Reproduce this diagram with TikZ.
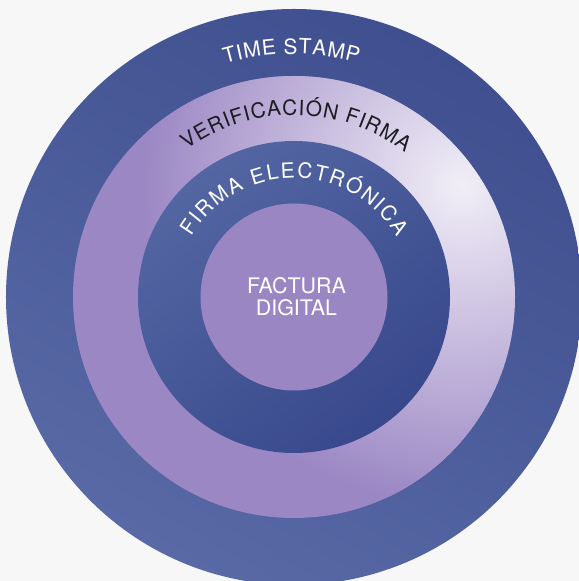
\documentclass[tikz,border=0pt]{standalone}
\usepackage{fontspec}
\setmainfont{TeX Gyre Heros}
\definecolor{bgc}{HTML}{F7F7F7}
\definecolor{outerA}{HTML}{3F4F8F}
\definecolor{outerB}{HTML}{5869A6}
\definecolor{lav}{HTML}{9B87C4}
\definecolor{lavlight}{HTML}{F1EEF7}
\definecolor{innerA}{HTML}{5366A2}
\definecolor{innerB}{HTML}{38488C}
\definecolor{core}{HTML}{9A86C2}
\definecolor{darktext}{HTML}{1C1C22}
% #1 radius, #2 centre angle, #3 tracking, #4 node style, #5 name prefix, #6 font size, #7 list char/width(1/1000 em)
\newcommand\arclabel[7]{%
  \xdef\arcsum{0}%
  \foreach \ch/\w in {#7}{%
    \pgfmathsetmacro\arctmp{\arcsum+\w/1000*#6+#3}%
    \xdef\arcsum{\arctmp}%
  }%
  \pgfmathsetmacro\arcstart{#2 + deg((\arcsum-#3)/(2*#1))}%
  \xdef\arcsum{0}%
  \foreach \ch/\w [count=\i] in {#7}{%
    \pgfmathsetmacro\arcang{\arcstart - deg((\arcsum+0.5*\w/1000*#6)/#1)}%
    \pgfmathsetmacro\arcrot{\arcang-90}%
    \node[#4, anchor=base, rotate=\arcrot] (#5-\i) at (\arcang:#1bp) {\ch};
    \pgfmathsetmacro\arctmp{\arcsum+\w/1000*#6+#3}%
    \xdef\arcsum{\arctmp}%
  }%
}
\begin{document}
\begin{tikzpicture}[x=1bp,y=1bp,
  arcchar/.style={text=#1, font=\fontsize{21}{21}\selectfont, inner sep=0pt},
  centertext/.style={text=white, font=\fontsize{21.5}{22}\selectfont, inner sep=0pt, anchor=base}
]
\clip (-294,-284) rectangle (285,297);
\fill[bgc] (-294,-284) rectangle (285,297);
% outer ring
\shade[top color=outerA, bottom color=outerB, shading angle=-30] (0,0) circle[radius=288bp];
% light ring
\begin{scope}
  \clip (0,0) circle[radius=221bp];
  \fill[lav] (0,0) circle[radius=221bp];
  \shade[inner color=lavlight, outer color=lav] (168,112) circle[radius=320bp];
\end{scope}
% inner blue ring
\shade[top color=innerA, bottom color=innerB, shading angle=40] (0,0) circle[radius=156bp];
% core
\fill[core] (0,0) circle[radius=93.5bp];
% curved labels
\arclabel{243}{90.6}{0.7}{arcchar=white}{ts}{21}{T/611,I/278,M/833,E/667,~/278,S/667,T/611,A/667,M/833,P/667}
\arclabel{182}{89.3}{0.8}{arcchar=darktext}{vf}{21}{V/667,E/667,R/722,I/278,F/611,I/278,C/722,A/667,C/722,I/278,Ó/778,N/722,~/278,F/611,I/278,R/722,M/833,A/667}
\arclabel{119}{89.8}{1.7}{arcchar=white}{fe}{21}{F/611,I/278,R/722,M/833,A/667,~/278,E/667,L/556,E/667,C/722,T/611,R/722,Ó/778,N/722,I/278,C/722,A/667}
% centre label
\node[centertext] (factura) at (2.5,3.4) {FACTURA};
\node[centertext] (digital) at (2.5,-18.7) {DIGITAL};
\end{tikzpicture}
\end{document}
